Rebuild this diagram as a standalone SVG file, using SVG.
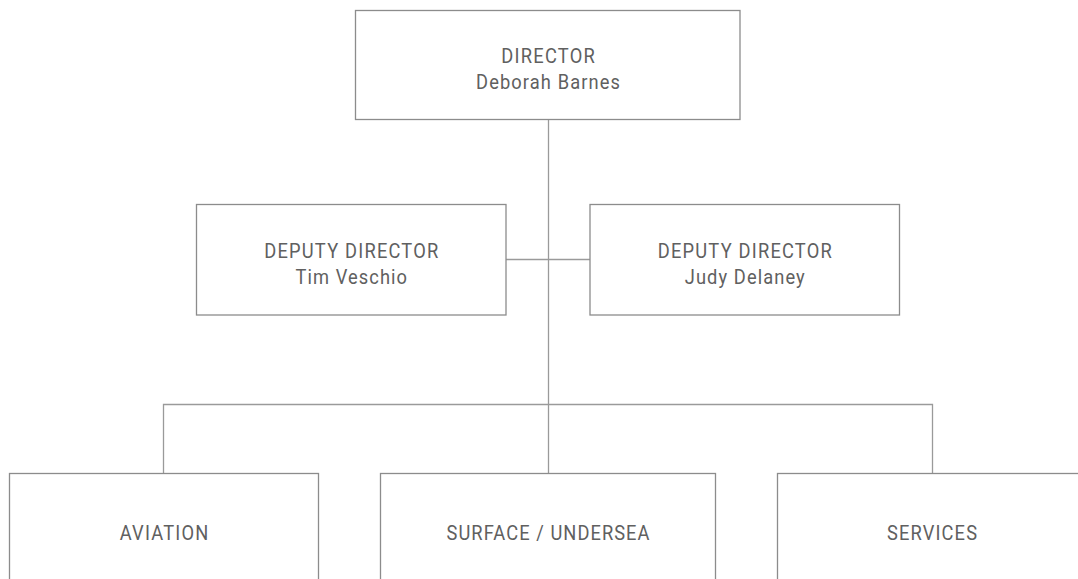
<svg xmlns="http://www.w3.org/2000/svg" width="1078" height="579" viewBox="0 0 1078 579">
<style>
.box{fill:#fff;stroke:#8c8c8c;stroke-width:1.3}
.ln{fill:none;stroke:#9a9a9a;stroke-width:1.3}
text{font-family:Roboto,"Liberation Sans",sans-serif;font-size:21px;fill:#606060;text-anchor:middle}
</style>
<rect width="1078" height="579" fill="#fff"/>
<g id="connectors">
<line class="ln" x1="548.5" y1="119.5" x2="548.5" y2="473.5"/>
<line class="ln" x1="506" y1="259.5" x2="590" y2="259.5"/>
<polyline class="ln" points="163.5,473.5 163.5,404.5 932.5,404.5 932.5,473.5"/>
</g>
<g id="director">
<rect class="box" x="355.5" y="10.5" width="384.5" height="109"/>
<text transform="translate(548,0) scale(0.87,1)" x="0" y="63.3" textLength="107.5" lengthAdjust="spacing">DIRECTOR</text>
<text transform="translate(548,0) scale(0.87,1)" x="0" y="89.5" textLength="165.5" lengthAdjust="spacing">Deborah Barnes</text>
</g>
<g id="deputy-left">
<rect class="box" x="196.5" y="204.5" width="309.5" height="110.5"/>
<text transform="translate(351.25,0) scale(0.87,1)" x="0" y="258.5" textLength="200" lengthAdjust="spacing">DEPUTY DIRECTOR</text>
<text transform="translate(351.25,0) scale(0.87,1)" x="0" y="284.5" textLength="128.2" lengthAdjust="spacing">Tim Veschio</text>
</g>
<g id="deputy-right">
<rect class="box" x="590" y="204.5" width="309.5" height="110.5"/>
<text transform="translate(744.75,0) scale(0.87,1)" x="0" y="258.5" textLength="200" lengthAdjust="spacing">DEPUTY DIRECTOR</text>
<text transform="translate(744.75,0) scale(0.87,1)" x="0" y="284.5" textLength="137.9" lengthAdjust="spacing">Judy Delaney</text>
</g>
<g id="aviation">
<rect class="box" x="9.5" y="473.5" width="309" height="140"/>
<text transform="translate(164,0) scale(0.87,1)" x="0" y="540" textLength="101.7" lengthAdjust="spacing">AVIATION</text>
</g>
<g id="surface">
<rect class="box" x="380.5" y="473.5" width="335" height="140"/>
<text transform="translate(548,0) scale(0.87,1)" x="0" y="540" textLength="233.3" lengthAdjust="spacing">SURFACE / UNDERSEA</text>
</g>
<g id="services">
<rect class="box" x="777.5" y="473.5" width="309" height="140"/>
<text transform="translate(932,0) scale(0.87,1)" x="0" y="540" textLength="103.4" lengthAdjust="spacing">SERVICES</text>
</g>
</svg>
